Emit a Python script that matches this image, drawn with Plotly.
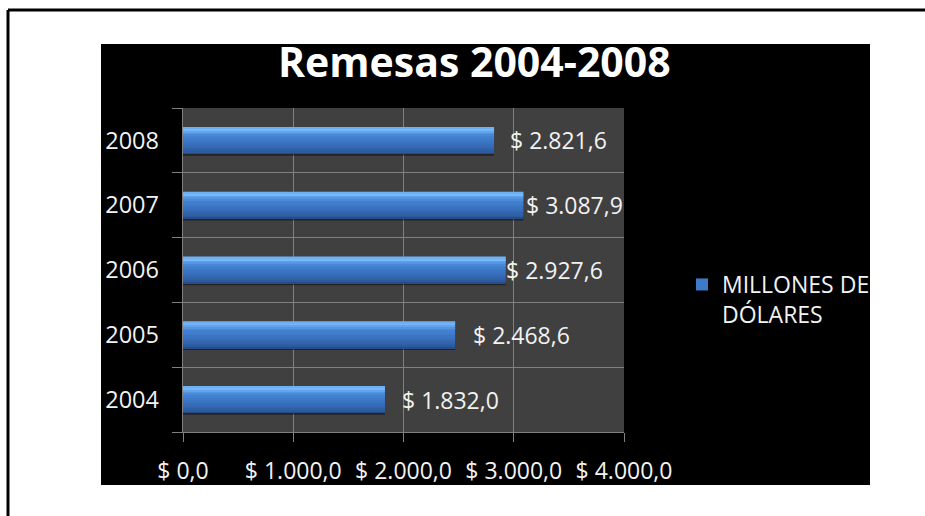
import plotly.graph_objects as go

# Remittances, millions of dollars
years = ["2004", "2005", "2006", "2007", "2008"]
remesas = [1832.0, 2468.6, 2927.6, 3087.9, 2821.6]
x_ticks = [0, 1000, 2000, 3000, 4000]
series_name = "MILLONES DE<br>DÓLARES"
title_text = "Remesas 2004-2008"

# horizontal nudge (px) of each value label after the bar end
label_shift = [15, 16, -2, 1, 14]

W, H = 925, 516
L, R, T, B = 183, 624, 108, 432  # plot area in pixels


def px(x):
    return (x - L) / (R - L)


def py(y):
    return (B - y) / (B - T)


def fmt_es(v):
    s = f"{v:,.1f}"
    return "$ " + s.replace(",", "X").replace(".", ",").replace("X", ".")


FONT = "Open Sans"
GRID = "#808080"
TXT = "#f2f2f2"

# vertical gradient of the bars (bottom -> top), in category units
HALF = 0.205
stops = [
    (-0.205, (34, 70, 126)),
    (-0.17, (44, 90, 156)),
    (-0.05, (56, 112, 190)),
    (0.08, (68, 132, 212)),
    (0.14, (96, 162, 236)),
    (0.175, (124, 190, 252)),
    (0.205, (100, 166, 238)),
]


def grad(t):
    for (a, ca), (b, cb) in zip(stops[:-1], stops[1:]):
        if a <= t <= b:
            f = (t - a) / (b - a)
            c = [round(ca[k] + (cb[k] - ca[k]) * f) for k in range(3)]
            return f"rgb({c[0]},{c[1]},{c[2]})"
    return "rgb(%d,%d,%d)" % stops[-1][1]


fig = go.Figure()

# soft shadow under each bar
fig.add_trace(go.Bar(
    y=years, x=remesas, orientation="h",
    offset=-HALF - 0.03, width=2 * HALF,
    marker=dict(color="rgba(0,0,0,0.45)", line=dict(width=0)),
    showlegend=False, hoverinfo="skip",
))

N = 16
h = 2 * HALF / N
for i in range(N):
    lo = -HALF + i * h
    fig.add_trace(go.Bar(
        y=years, x=remesas, orientation="h",
        offset=lo, width=h + 0.003,
        marker=dict(color=grad(lo + h / 2), line=dict(width=0)),
        name=series_name,
        showlegend=(i == 8),
        hoverinfo="x+y" if i == 8 else "skip",
    ))

shapes = [
    # black chart area
    dict(type="rect", xref="paper", yref="paper",
         x0=px(101), x1=px(870), y0=py(485), y1=py(44),
         fillcolor="black", line=dict(width=0), layer="below"),
    # plot area
    dict(type="rect", xref="paper", yref="paper",
         x0=0, x1=1, y0=0, y1=1,
         fillcolor="#404040", line=dict(width=0), layer="below"),
    # page frame (top and left edges)
    dict(type="line", xref="paper", yref="paper",
         x0=px(8), x1=px(930), y0=py(10), y1=py(10),
         line=dict(color="black", width=3)),
    dict(type="line", xref="paper", yref="paper",
         x0=px(8), x1=px(8), y0=py(10), y1=py(520),
         line=dict(color="black", width=3)),
]

annotations = [
    dict(text=title_text, xref="paper", yref="paper",
         x=px(474), y=py(61), xanchor="center", yanchor="middle",
         showarrow=False,
         font=dict(family=FONT, size=41, color="white", weight=700)),
]
# value labels; y given as the category index
for idx, (v, s) in enumerate(zip(remesas, label_shift)):
    annotations.append(dict(
        text=fmt_es(v), x=v, y=idx, xref="x", yref="y",
        xanchor="left", yanchor="middle", xshift=s,
        showarrow=False, font=dict(family=FONT, size=23, color=TXT),
    ))

fig.update_layout(
    width=W, height=H,
    margin=dict(l=L, r=W - R, t=T, b=H - B, pad=0),
    paper_bgcolor="white",
    plot_bgcolor="#404040",
    barmode="overlay",
    shapes=shapes,
    annotations=annotations,
    showlegend=True,
    legend=dict(
        x=px(682), y=py(263), xanchor="left", yanchor="top",
        bgcolor="rgba(0,0,0,0)",
        font=dict(family=FONT, size=23, color=TXT),
        valign="top",
    ),
    xaxis=dict(
        range=[0, 4000],
        tickvals=x_ticks, ticktext=[fmt_es(t) for t in x_ticks],
        showgrid=True, gridcolor=GRID, gridwidth=1,
        showline=True, linecolor=GRID, linewidth=1,
        ticks="outside", ticklen=9, tickcolor=GRID, tickwidth=1,
        zeroline=False,
        tickfont=dict(family=FONT, size=23, color=TXT),
        ticklabelstandoff=9,
        fixedrange=True,
    ),
    yaxis=dict(
        type="category", categoryorder="array", categoryarray=years,
        range=[-0.5, len(years) - 0.5],
        tickson="boundaries",
        showgrid=True, gridcolor=GRID, gridwidth=1,
        showline=True, linecolor=GRID, linewidth=1,
        ticks="outside", ticklen=10, tickcolor=GRID, tickwidth=1,
        ticksuffix="\u00a0\u00a0\u00a0",
        zeroline=False,
        tickfont=dict(family=FONT, size=23.5, color=TXT),
        fixedrange=True,
    ),
)

fig.write_html("out.html")
